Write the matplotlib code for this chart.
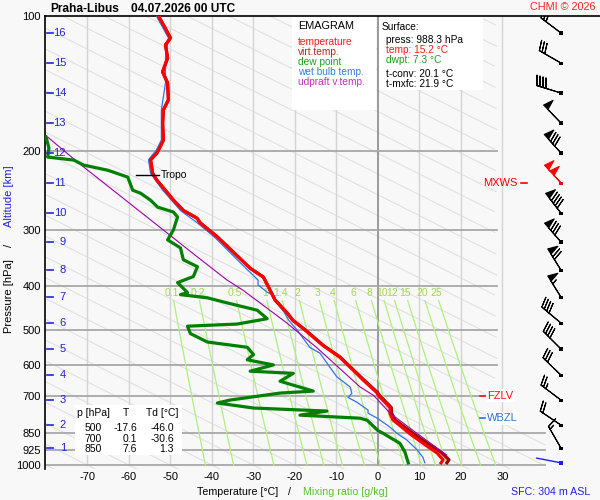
import numpy as np
import matplotlib
matplotlib.use('Agg')
import matplotlib.pyplot as plt
from matplotlib.patches import Rectangle
from matplotlib.ticker import NullLocator

plt.rcParams['font.family'] = ['Liberation Sans', 'DejaVu Sans']

# ---- sounding data ----
p_temp = [100.0, 104.7, 111.9, 116.0, 124.0, 133.2, 141.0, 153.7, 161.8, 173.2, 188.9, 198.8,
          202.0, 209.0, 224.0, 232.0, 244.0, 257.0, 271.0, 282.0, 289.0, 310.4, 364.4, 381.5,
          428.9, 458.3, 476.0, 500.0, 541.0, 575.0, 614.0, 646.0, 689.0, 700.0, 744.0, 767.0,
          793.0, 850.0, 893.0, 939.0, 973.0, 988.3]
temp = [-52.9, -51.7, -50.0, -51.2, -50.7, -51.9, -50.7, -50.5, -51.7, -51.9, -51.7, -52.9,
        -53.3, -54.8, -54.3, -53.3, -51.3, -49.3, -46.9, -43.6, -42.8, -38.7, -30.8, -27.6,
        -24.8, -21.9, -20.5, -17.6, -13.3, -9.2, -6.0, -3.6, -0.3, 0.1, 2.9, 2.9,
        3.6, 7.6, 10.8, 14.2, 15.7, 15.2]
virt_temp = [-52.9, -51.7, -50.0, -51.2, -50.7, -51.9, -50.7, -50.5, -51.7, -51.9, -51.7, -52.9,
             -53.3, -54.8, -54.3, -53.3, -51.3, -49.3, -46.9, -43.6, -42.8, -38.7, -30.8, -27.6,
             -24.8, -21.9, -20.5, -17.5, -13.2, -9.1, -5.9, -3.4, -0.1, 0.4, 3.2, 3.3,
             4.1, 8.5, 11.8, 15.4, 17.1, 16.6]

p_dew = [185.9, 196.7, 206.1, 209.3, 214.8, 220.5, 228.4, 244.3, 248.1, 257.1, 266.4, 273.2,
         280.2, 299.6, 315.1, 328.3, 349.0, 361.6, 380.3, 392.3, 413.0, 417.2, 424.1, 435.4,
         451.9, 472.0, 485.1, 490.5, 509.5, 532.0, 546.5, 567.3, 582.6, 598.3, 617.8, 624.6,
         650.4, 684.1, 691.1, 716.2, 727.2, 746.2, 757.9, 773.9, 786.2, 794.5, 838.0, 850.0,
         867.7, 894.3, 935.7, 988.3]
dewp = [-80.0, -79.3, -79.6, -73.3, -70.9, -65.1, -60.3, -59.1, -57.2, -54.8, -53.1, -49.3,
        -48.3, -49.3, -50.7, -47.6, -46.9, -43.5, -44.5, -48.3, -45.9, -47.6, -41.1, -36.3,
        -29.1, -26.7, -33.9, -45.9, -45.2, -41.1, -31.5, -30.0, -31.5, -25.2, -30.8, -20.4,
        -23.6, -15.6, -23.6, -35.6, -38.7, -30.0, -12.3, -18.8, -4.3, -2.6, 0.0, 1.3,
        2.9, 5.3, 6.5, 7.3]

p_wb = [100.0, 111.9, 124.0, 141.0, 161.8, 188.9, 198.8, 209.0, 224.0, 244.0, 271.0, 289.0,
        310.0, 364.0, 387.0, 397.0, 412.0, 418.0, 445.0, 458.0, 476.0, 500.0, 547.0, 563.0,
        605.0, 636.0, 670.0, 692.0, 707.0, 724.0, 754.0, 766.0, 786.0, 823.0, 850.0, 880.0,
        924.0, 960.0, 988.3]
wet_bulb = [-53.4, -50.5, -51.2, -51.2, -52.2, -52.2, -53.4, -55.3, -54.8, -51.9, -47.6, -43.5,
            -39.5, -31.9, -28.9, -28.9, -26.7, -25.3, -23.6, -22.5, -21.5, -19.5, -16.4, -14.0,
            -11.6, -9.9, -6.7, -6.3, -7.2, -5.1, -2.4, -2.4, -0.2, 2.9, 4.6, 7.0,
            9.4, 10.8, 11.3]

p_upd = [186.0, 212.6, 344.0, 387.0, 408.0, 483.0, 548.0, 670.0, 700.0, 766.0, 850.0, 950.0]
updraft = [-79.6, -72.1, -43.5, -36.4, -32.5, -21.9, -14.7, -4.3, -1.0, 2.9, 9.4, 16.6]

# altitude marks (km) and their pressure
alt_km = [1, 2, 3, 4, 5, 6, 7, 8, 9, 10, 11, 12, 13, 14, 15, 16]
alt_p = [916.4, 814.6, 716.5, 630.4, 551.4, 482.8, 422.6, 367.9, 318.6, 274.7, 235.5, 201.9,
         173.1, 148.4, 127.3, 109.1]

# wind at each km (direction deg, speed kt)
wind_dir = [330, 304, 307, 314, 315, 310, 328, 328, 319, 322, 317, 318, 316, 287, 300, 307]
wind_spd = [15, 20, 25, 30, 40, 40, 55, 70, 80, 90, 100, 80, 50, 40, 30, 30]
max_wind_km = 11
sfc_wind_dir = 281

# surface info / table / levels
sfc_press, sfc_temp, sfc_dwpt = 988.3, 15.2, 7.3
t_conv, t_mxfc = 20.1, 21.9
sfc_alt = 304
tab_p = [500, 700, 850]
tab_T = [-17.6, 0.1, 7.6]
tab_Td = [-46.0, -30.6, 1.3]
tropo_p, tropo_T = 226.0, -54.3
fzlv_p = 700.6
wbzl_p = 786.0

mix_vals = [0.1, 0.2, 0.5, 1, 1.4, 2, 3, 4, 6, 8, 10, 12, 15, 20, 25]
p_levels = [100, 200, 300, 400, 500, 600, 700, 850, 925, 1000]
t_levels = [-70, -60, -50, -40, -30, -20, -10, 0, 10, 20, 30]


def fx(x):
    return x / 600.0


def fy(y):
    return 1 - y / 500.0


def td_from_w(w, p):
    e = w * p / (622.0 + w)
    a = np.log(e / 6.112)
    return 243.5 * a / (17.67 - a)


bg = '#f8f8f8'
fig = plt.figure(figsize=(6, 5), dpi=100, facecolor=bg)
ax = fig.add_axes([fx(45), fy(469), fx(600) - fx(45), (469 - 16) / 500.0])
ax.set_facecolor(bg)
ax.set_yscale('log')
ax.set_ylim(1020, 100)
ax.set_xlim(-80.24, 53.5)

# background: diagonal lines
pp = np.logspace(2, np.log10(1020), 300)
for c in range(-80, 280, 10):
    tt = c + 216 * np.log10(pp / 1000.0)
    tmax = np.where(pp < 810, 28.7, 40.3)
    tt = np.where(tt > tmax, np.nan, tt)
    ax.plot(tt, pp, color='#dedede', lw=0.7, zorder=1)

# isotherms
for t in t_levels:
    ax.plot([t, t], [1000, 100], color='#8a8a8a' if t == 0 else '#d4d4d4',
            lw=1.2 if t == 0 else 1.0, zorder=1.5)

# isobars
for p in p_levels[1:]:
    tmax = 40.3 if p >= 850 else 28.7
    ax.plot([-80.24, tmax], [p, p], color='#a8a8a8', lw=1.3, zorder=1.6)

# mixing ratio lines
pm = np.linspace(430, 1000, 50)
for w in mix_vals:
    ax.plot(td_from_w(w, pm), pm, color='#aef07e', lw=0.9, zorder=1.7)
    ax.text(td_from_w(w, 414.0), 414.0, f'{w:g}', color='#a2d84e', fontsize=7.5,
            ha='center', va='center', zorder=1.8)

# profiles
ax.plot(virt_temp, p_temp, color='#a00000', lw=2.3, zorder=3)
ax.plot(wet_bulb, p_wb, color='#2f74e8', lw=0.9, zorder=3.5)
ax.plot(temp, p_temp, color='#ff0000', lw=2.3, zorder=4)
ax.plot(updraft, p_upd, color='#a000a8', lw=0.8, zorder=4.5)
ax.plot(dewp, p_dew, color='#008000', lw=2.3, zorder=5)

# tropopause
ax.plot([tropo_T - 4.0, tropo_T + 1.5], [tropo_p, tropo_p], color='black', lw=1, zorder=6)
ax.text(tropo_T + 2.0, tropo_p, 'Tropo', fontsize=7.5, va='center', zorder=6)

# altitude marks
yt = ax.get_yaxis_transform()
for km, p in zip(alt_km, alt_p):
    ax.plot([0.004, 0.015], [p, p], color='#2323e0', lw=1.2, transform=yt, zorder=6)
    ax.text(0.0378, p, str(km), color='#2323e0', fontsize=8, ha='right', va='center',
            transform=yt, zorder=6)

# wind barbs
barb_x = 44.1
d = np.radians(wind_dir)
spd = np.array(wind_spd, dtype=float)
u = -spd * np.sin(d)
v = -spd * np.cos(d)
is_max = np.array([k == max_wind_km for k in alt_km])
xs = np.full(len(alt_km), barb_x)
ap = np.array(alt_p)
ax.barbs(xs[~is_max], ap[~is_max], u[~is_max], v[~is_max], length=6, color='black',
         lw=0.8, zorder=7)
ax.barbs(xs[is_max], ap[is_max], u[is_max], v[is_max], length=6, color='red',
         lw=0.8, zorder=7)
ax.scatter(xs, ap, marker='s', s=5, c=['red' if m else 'black' for m in is_max],
           zorder=8, linewidths=0)
sd = np.radians(sfc_wind_dir)
ax.annotate('', xy=(barb_x, sfc_press), xytext=(18 * np.sin(sd), 18 * np.cos(sd)),
            textcoords='offset points',
            arrowprops=dict(arrowstyle='-', color='#2020e0', lw=1, shrinkA=0, shrinkB=0),
            zorder=7)
ax.scatter([barb_x], [sfc_press], marker='s', s=5, c='#2020e0', zorder=8, linewidths=0)

# level labels
ax.plot([34.5, 35.9], [alt_p[alt_km.index(max_wind_km)]] * 2, color='red', lw=1.2, zorder=6)
ax.text(33.5, alt_p[alt_km.index(max_wind_km)], 'MXWS', color='red', fontsize=8,
        ha='right', va='center', zorder=6)
for lp, name, col in [(fzlv_p, 'FZLV', '#ff1010'), (wbzl_p, 'WBZL', '#3070e0')]:
    ax.plot([24.6, 25.8], [lp, lp], color=col, lw=1.2, zorder=6)
    ax.text(26.3, lp, name, color=col, fontsize=8, va='center', zorder=6,
            bbox=dict(facecolor='white', edgecolor='none', pad=1))

# axes styling
ax.set_yticks(p_levels)
ax.set_yticklabels([str(p) for p in p_levels])
ax.yaxis.set_minor_locator(NullLocator())
ax.set_xticks(t_levels)
ax.set_xticklabels([str(t) for t in t_levels])
ax.tick_params(axis='both', length=0, labelsize=8)
ax.tick_params(axis='y', pad=3)
ax.tick_params(axis='x', pad=2)
for s in ['right', 'bottom']:
    ax.spines[s].set_visible(False)
ax.spines['left'].set_linewidth(1.2)
ax.spines['top'].set_linewidth(1.2)

# legend box
fig.add_artist(Rectangle((fx(292), fy(110)), fx(376) - fx(292), (110 - 17) / 500.0,
                         transform=fig.transFigure, facecolor='white', edgecolor='none'))
fig.text(fx(298), fy(26), 'EMAGRAM', fontsize=7.8, va='center')
for i, (lab, col) in enumerate([('temperature', '#ff1a1a'), ('virt.temp.', '#a82828'),
                                ('dew point', '#1f9f1f'), ('wet bulb temp.', '#3a7be0'),
                                ('udpraft v.temp.', '#c030c0')]):
    fig.text(fx(298), fy(42 + 10 * i), lab, color=col, fontsize=7.3, va='center')

# surface box
fig.add_artist(Rectangle((fx(379), fy(90)), fx(483) - fx(379), (90 - 17) / 500.0,
                         transform=fig.transFigure, facecolor='white', edgecolor='none'))
fig.text(fx(382), fy(27), 'Surface:', fontsize=7.3, va='center')
fig.text(fx(386), fy(40), f'press: {sfc_press} hPa', fontsize=7.3, va='center')
fig.text(fx(386), fy(50), f'temp: {sfc_temp} °C', fontsize=7.3, va='center', color='#ff1a1a')
fig.text(fx(386), fy(60), f'dwpt: {sfc_dwpt} °C', fontsize=7.3, va='center', color='#1f9f1f')
fig.text(fx(386), fy(74), f't-conv: {t_conv} °C', fontsize=7.3, va='center')
fig.text(fx(386), fy(84), f't-mxfc: {t_mxfc} °C', fontsize=7.3, va='center')

# table box
fig.add_artist(Rectangle((fx(75), fy(455)), fx(182) - fx(75), (455 - 405) / 500.0,
                         transform=fig.transFigure, facecolor='white', edgecolor='none'))
fig.text(fx(77), fy(413), 'p [hPa]', fontsize=7.5, va='center')
fig.text(fx(126), fy(413), 'T', fontsize=7.5, va='center', ha='center')
fig.text(fx(146), fy(413), 'Td [°C]', fontsize=7.5, va='center')
for i in range(len(tab_p)):
    yy = fy(428 + 10.5 * i)
    fig.text(fx(102), yy, str(tab_p[i]), fontsize=7.5, va='center', ha='right')
    fig.text(fx(137), yy, f'{tab_T[i]:.1f}', fontsize=7.5, va='center', ha='right')
    fig.text(fx(174), yy, f'{tab_Td[i]:.1f}', fontsize=7.5, va='center', ha='right')

# titles and labels
fig.text(fx(50), fy(9), 'Praha-Libus', fontsize=8.6, weight='bold', va='center')
fig.text(fx(131), fy(9), '04.07.2026 00 UTC', fontsize=8.6, weight='bold', va='center')
fig.text(fx(595), fy(7), 'CHMI © 2026', fontsize=7.8, color='#ff2020', ha='right', va='center')
fig.text(fx(197), fy(492), 'Temperature [°C]', fontsize=7.7, va='center')
fig.text(fx(288), fy(492), '/', fontsize=7.7, va='center')
fig.text(fx(303), fy(492), 'Mixing ratio [g/kg]', fontsize=7.7, va='center', color='#5cc22c')
fig.text(fx(590), fy(492), f'SFC: {sfc_alt} m ASL', fontsize=7.7, va='center', ha='right',
         color='#2323e0')
fig.text(fx(9), fy(296), 'Pressure [hPa]', fontsize=8, rotation=90, ha='center', va='center')
fig.text(fx(9), fy(245), '/', fontsize=8, rotation=90, ha='center', va='center')
fig.text(fx(9), fy(196), 'Altitude [km]', fontsize=8, rotation=90, ha='center', va='center',
         color='#2323e0')

fig.savefig('out.png', dpi=100, facecolor=bg)
